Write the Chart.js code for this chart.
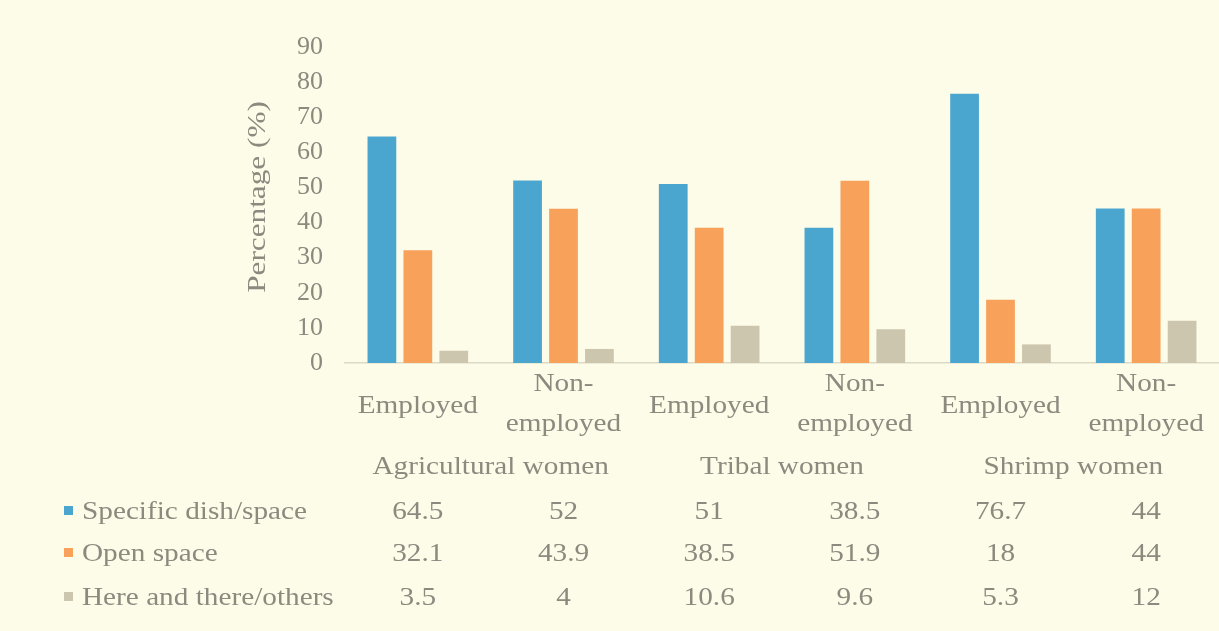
<!DOCTYPE html>
<html>
<head>
<meta charset="utf-8">
<script src="https://cdn.jsdelivr.net/npm/chart.js@4/dist/chart.umd.min.js"></script>
<style>
  html, body { margin: 0; padding: 0; background: #fdfce9; }
  #wrap { width: 1219px; height: 631px; }
</style>
</head>
<body>
<div id="wrap"><canvas id="wasteChart" width="1219" height="631"></canvas></div>
<script>
// categorias e séries
const categoryLines = [['Employed'], ['Non-', 'employed'], ['Employed'], ['Non-', 'employed'], ['Employed'], ['Non-', 'employed']];
const groups = ['Agricultural women', 'Tribal women', 'Shrimp women'];
const seriesNames = ['Specific dish/space', 'Open space', 'Here and there/others'];
const specificDish = [64.5, 52, 51, 38.5, 76.7, 44];
const openSpace = [32.1, 43.9, 38.5, 51.9, 18, 44];
const hereThere = [3.5, 4, 10.6, 9.6, 5.3, 12];
const yMax = 90;
const yStep = 10;
const yTitle = 'Percentage (%)';

const colors = ['#4ba6cf', '#f7a15b', '#cdc6ae'];
const textColor = '#8b8a7f';
const fontFamily = '"Liberation Serif", "Times New Roman", serif';
const STRETCH = 1.17;

// texto com leve alargamento horizontal
function drawText(ctx, text, x, y, align) {
    ctx.save();
    ctx.translate(x, y);
    ctx.scale(STRETCH, 1);
    ctx.textAlign = align;
    ctx.fillText(text, 0, 0);
    ctx.restore();
}

const dataTablePlugin = {
    id: 'dataTable',
    afterDraw(chart) {
        const ctx = chart.ctx;
        const xs = chart.scales.x;
        const area = chart.chartArea;
        ctx.save();
        ctx.fillStyle = textColor;
        ctx.textBaseline = 'middle';
        ctx.font = '25px ' + fontFamily;

        // título do eixo y
        ctx.save();
        ctx.translate(258, (area.top + area.bottom) / 2 - 8);
        ctx.rotate(-Math.PI / 2);
        ctx.scale(1.25, 1);
        ctx.textAlign = 'center';
        ctx.fillText(yTitle, 0, 0);
        ctx.restore();

        // rótulos das categorias
        categoryLines.forEach((lines, i) => {
            const cx = xs.getPixelForValue(i);
            if (lines.length === 1) {
                drawText(ctx, lines[0], cx, area.bottom + 43, 'center');
            } else {
                drawText(ctx, lines[0], cx, area.bottom + 21, 'center');
                drawText(ctx, lines[1], cx, area.bottom + 61, 'center');
            }
        });

        // rótulos dos grupos
        groups.forEach((g, j) => {
            const cx = (xs.getPixelForValue(j * 2) + xs.getPixelForValue(j * 2 + 1)) / 2;
            drawText(ctx, g, cx, area.bottom + 104, 'center');
        });

        // tabela de dados
        const series = [specificDish, openSpace, hereThere];
        const rowY = [512, 554, 598];
        series.forEach((vals, r) => {
            const y = rowY[r];
            ctx.fillStyle = colors[r];
            ctx.fillRect(64, y - 6, 9, 9);
            ctx.fillStyle = textColor;
            drawText(ctx, seriesNames[r], 82, y, 'left');
            vals.forEach((v, i) => {
                drawText(ctx, String(v), xs.getPixelForValue(i), y, 'center');
            });
        });
        ctx.restore();
    }
};

const ctxEl = document.getElementById('wasteChart');
new Chart(ctxEl, {
    type: 'bar',
    data: {
        labels: categoryLines.map(l => l.join('')),
        datasets: [specificDish, openSpace, hereThere].map((vals, i) => ({
            label: seriesNames[i],
            data: vals,
            backgroundColor: colors[i],
            borderWidth: 0,
            categoryPercentage: 0.74,
            barPercentage: 0.8
        }))
    },
    options: {
        responsive: false,
        animation: false,
        layout: { padding: { left: 0, top: 47, right: 0, bottom: 0 } },
        plugins: {
            legend: { display: false },
            tooltip: { enabled: false }
        },
        scales: {
            x: {
                grid: { display: false },
                border: { display: true, color: '#dcd9c6', width: 1.5 },
                ticks: { display: false },
                afterFit: (scale) => { scale.height = 268; }
            },
            y: {
                min: 0,
                max: yMax,
                grid: { display: false, drawTicks: false },
                border: { display: false },
                ticks: {
                    stepSize: yStep,
                    padding: 22,
                    color: textColor,
                    font: { family: fontFamily, size: 26 }
                },
                afterFit: (scale) => { scale.width = 345; }
            }
        }
    },
    plugins: [dataTablePlugin]
});
</script>
</body>
</html>
